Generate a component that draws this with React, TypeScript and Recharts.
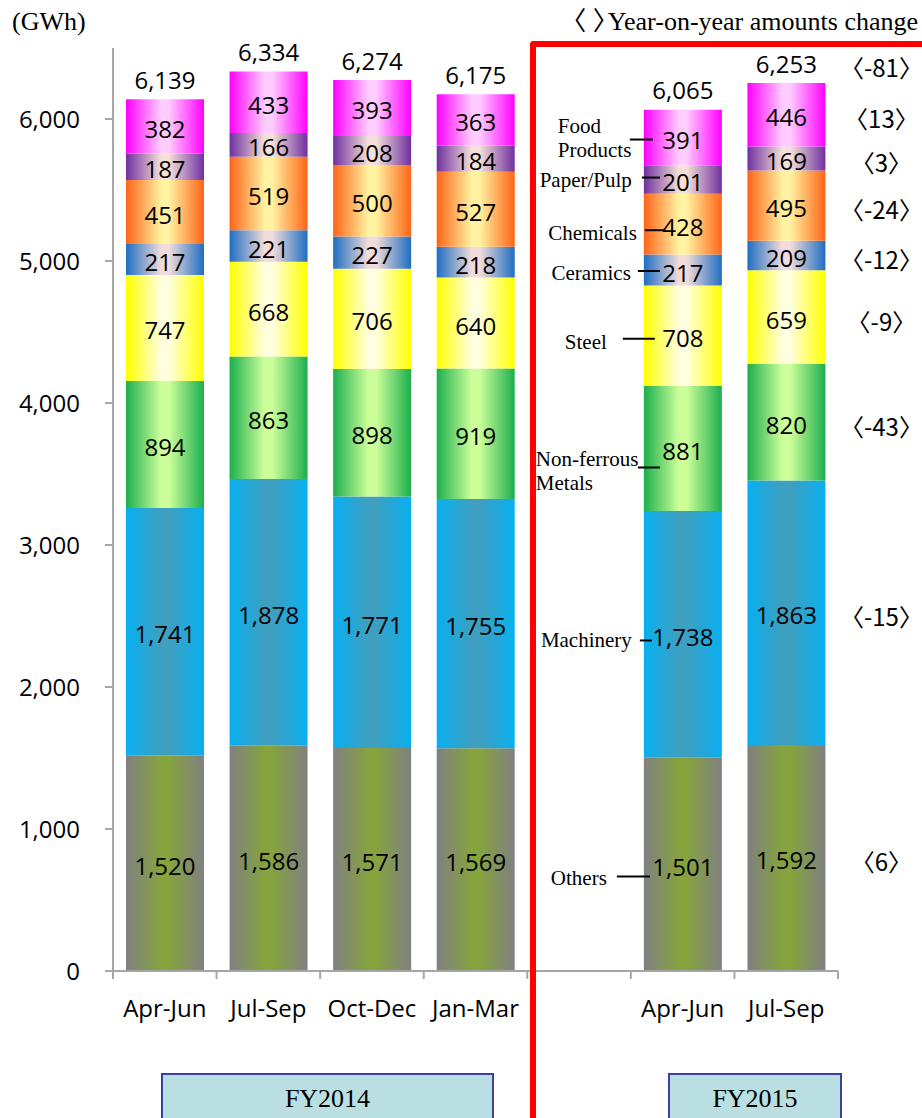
import React from 'react';
import { Bar, BarChart, LabelList, XAxis, YAxis } from 'recharts';

// quarters; the empty slot is the spacer between FY2014 and FY2015
const periods = ['Apr-Jun', 'Jul-Sep', 'Oct-Dec', 'Jan-Mar', '', 'Apr-Jun', 'Jul-Sep'];

const others = [1520, 1586, 1571, 1569, null, 1501, 1592];
const machinery = [1741, 1878, 1771, 1755, null, 1738, 1863];
const nonFerrous = [894, 863, 898, 919, null, 881, 820];
const steel = [747, 668, 706, 640, null, 708, 659];
const ceramics = [217, 221, 227, 218, null, 217, 209];
const chemicals = [451, 519, 500, 527, null, 428, 495];
const paperPulp = [187, 166, 208, 184, null, 201, 169];
const foodProducts = [382, 433, 393, 363, null, 391, 446];
const totals = [6139, 6334, 6274, 6175, null, 6065, 6253];

const seriesNames = ['Others', 'Machinery', 'Non-ferrous Metals', 'Steel', 'Ceramics', 'Chemicals', 'Paper/Pulp', 'Food Products'];
// year-on-year change of the last quarter, same order as the series
const yoyChange = [6, -15, -43, -9, -12, -24, 3, 13];
const yoyTotal = -81;

const yTicks = [0, 1000, 2000, 3000, 4000, 5000, 6000];

const seriesKeys = ['others', 'machinery', 'nonFerrous', 'steel', 'ceramics', 'chemicals', 'paperPulp', 'foodProducts'];
const seriesValues = [others, machinery, nonFerrous, steel, ceramics, chemicals, paperPulp, foodProducts];

// edge colour, centre colour of each bar gradient
const fills = [
  ['#808080', '#86A33E'],
  ['#08B0F0', '#3E9FC0'],
  ['#1DAF4E', '#CCFF99'],
  ['#FFFF00', '#FFFFE0'],
  ['#1F6EC2', '#F2DCDB'],
  ['#FF6418', '#FFF2A0'],
  ['#7030A0', '#F4E0D8'],
  ['#FF00FF', '#FFCCFF'],
];

// category labels beside the FY2015 Apr-Jun bar (offsets from bar left / segment centre)
const sideLabels = [
  { lines: ['Others'], anchor: 'end', tx: -37, dy: [14], lx: [-27, 6], ly: 12 },
  { lines: ['Machinery'], anchor: 'end', tx: -12, dy: [6], lx: [-4, 8], ly: 6 },
  { lines: ['Non-ferrous', 'Metals'], anchor: 'start', tx: -108, dy: [10, 34], lx: [-6, 16], ly: 19 },
  { lines: ['Steel'], anchor: 'end', tx: -37, dy: [6], lx: [-21, 11], ly: 3 },
  { lines: ['Ceramics'], anchor: 'end', tx: -13, dy: [3], lx: [-6, 16], ly: 1 },
  { lines: ['Chemicals'], anchor: 'end', tx: -7, dy: [9], lx: [1, 21], ly: 6 },
  { lines: ['Paper/Pulp'], anchor: 'end', tx: -12, dy: [0], lx: [-2, 16], ly: -2 },
  { lines: ['Food', 'Products'], anchor: 'start', tx: -86, dy: [-12, 12], lx: [-14, 9], ly: 2 },
];

const W = 922;
const H = 1118;
const PLOT_LEFT = 113;
const PLOT_RIGHT = 838;
const BAND = (PLOT_RIGHT - PLOT_LEFT) / periods.length;
const SANS = '"Open Sans", "Noto Sans", sans-serif';
const SERIF = '"Liberation Serif", "Times New Roman", "Noto Sans CJK JP", serif';
const CJK = '"Noto Sans CJK JP", "Open Sans", sans-serif';
const AXIS = '#A6A6A6';
const SIDE_LABEL_BAR = 5;
const YOY_BAR = 6;
const YOY_DX = 56;

const data = periods.map((period, i) => {
  const row: Record<string, string | number | null> = { period };
  seriesKeys.forEach((k, s) => {
    row[k] = seriesValues[s][i];
  });
  return row;
});

const fmt = (v: number) => v.toLocaleString('en-US');
const fmtYoy = (v: number) => `〈${v}〉`;

// LabelList skips the empty spacer row, so find the category from the bar position
const categoryOf = (x: number, width: number) => Math.floor((x + width / 2 - PLOT_LEFT) / BAND);

function makeSegmentLabel(s: number) {
  return (props: any) => {
    const x = Number(props.x);
    const y = Number(props.y);
    const width = Number(props.width);
    const height = Number(props.height);
    const index = categoryOf(x, width);
    const v = seriesValues[s][index];
    if (v == null) return null;
    const cx = x + width / 2;
    const cy = y + height / 2;
    const side = sideLabels[s];
    return (
      <g>
        <text x={cx} y={cy + 2} textAnchor="middle" dominantBaseline="central" fontFamily={SANS} fontSize={24} fill="#000">
          {fmt(v)}
        </text>
        {index === SIDE_LABEL_BAR && (
          <g>
            <line x1={x + side.lx[0]} x2={x + side.lx[1]} y1={cy + side.ly} y2={cy + side.ly} stroke="#000" strokeWidth={2} />
            {side.lines.map((t, j) => (
              <text key={t} x={x + side.tx} y={cy + side.dy[j]} textAnchor={side.anchor as any} dominantBaseline="central" fontFamily={SERIF} fontSize={21} fill="#000">
                {t}
              </text>
            ))}
          </g>
        )}
        {index === YOY_BAR && (
          <text x={x + width + YOY_DX} y={cy + 3} textAnchor="middle" dominantBaseline="central" fontFamily={CJK} fontSize={24} fill="#000">
            {fmtYoy(yoyChange[s])}
          </text>
        )}
      </g>
    );
  };
}

function TotalLabel(props: any) {
  const x = Number(props.x);
  const y = Number(props.y);
  const width = Number(props.width);
  const index = categoryOf(x, width);
  const t = totals[index];
  if (t == null) return null;
  return (
    <g>
      <text x={x + width / 2} y={y - 20} textAnchor="middle" dominantBaseline="central" fontFamily={SANS} fontSize={24} fill="#000">
        {fmt(t)}
      </text>
      {index === YOY_BAR && (
        <text x={x + width + YOY_DX} y={y - 17} textAnchor="middle" dominantBaseline="central" fontFamily={CJK} fontSize={24} fill="#000">
          {fmtYoy(yoyTotal)}
        </text>
      )}
    </g>
  );
}

function PeriodTick(props: any) {
  const { x, y, payload, index } = props;
  const axisY = Number(y) - 8;
  return (
    <g>
      <line x1={x - BAND / 2} x2={x - BAND / 2} y1={axisY} y2={axisY + 8} stroke={AXIS} strokeWidth={2} />
      {index === periods.length - 1 && (
        <line x1={x + BAND / 2} x2={x + BAND / 2} y1={axisY} y2={axisY + 8} stroke={AXIS} strokeWidth={2} />
      )}
      <text x={x} y={axisY + 36} textAnchor="middle" dominantBaseline="central" fontFamily={SANS} fontSize={24} fill="#000">
        {payload.value}
      </text>
    </g>
  );
}

const fyBox: React.CSSProperties = {
  position: 'absolute',
  top: 1073,
  height: 60,
  boxSizing: 'border-box',
  background: '#B9DFE3',
  border: '2px solid #3F3F9F',
  textAlign: 'center',
  fontFamily: SERIF,
  fontSize: 26,
  lineHeight: '48px',
  color: '#000',
};

export default function App() {
  return (
    <div style={{ position: 'absolute', left: 0, top: 0, width: W, height: H, overflow: 'hidden', background: '#fff' }}>
      <BarChart width={W} height={H} data={data} margin={{ top: 48, right: W - PLOT_RIGHT, left: 0, bottom: 87 }}>
        <defs>
          {fills.map(([edge, centre], s) => (
            <linearGradient key={s} id={`grad-${seriesKeys[s]}`} x1="0" y1="0" x2="1" y2="0">
              <stop offset="0" stopColor={edge} />
              <stop offset="0.45" stopColor={centre} />
              <stop offset="0.55" stopColor={centre} />
              <stop offset="1" stopColor={edge} />
            </linearGradient>
          ))}
        </defs>
        <XAxis
          dataKey="period"
          interval={0}
          height={60}
          tickSize={8}
          tickMargin={0}
          tickLine={false}
          axisLine={{ stroke: AXIS, strokeWidth: 2 }}
          tick={<PeriodTick />}
        />
        <YAxis
          width={PLOT_LEFT}
          domain={[0, 6500]}
          ticks={yTicks}
          tickFormatter={fmt}
          tickSize={8}
          tickMargin={25}
          axisLine={{ stroke: AXIS, strokeWidth: 2 }}
          tickLine={{ stroke: AXIS, strokeWidth: 2 }}
          tick={{ fontFamily: SANS, fontSize: 24, fill: '#000' }}
        />
        {seriesKeys.map((k, s) => (
          <Bar key={k} dataKey={k} name={seriesNames[s]} stackId="a" barSize={78} fill={`url(#grad-${k})`} isAnimationActive={false}>
            <LabelList dataKey={k} content={makeSegmentLabel(s)} />
            {s === seriesKeys.length - 1 && <LabelList dataKey={k} content={TotalLabel} />}
          </Bar>
        ))}
      </BarChart>

      <div style={{ position: 'absolute', left: 12, top: 6, fontFamily: SERIF, fontSize: 26, lineHeight: '32px' }}>(GWh)</div>
      <div style={{ position: 'absolute', right: 4, top: 6, fontFamily: SERIF, fontSize: 26, lineHeight: '32px', whiteSpace: 'nowrap' }}>
        〈 <span style={{ letterSpacing: -11 }}>〉</span>Year-on-year amounts change
      </div>
      <div
        style={{
          position: 'absolute',
          left: 530,
          top: 41,
          width: 420,
          height: 1120,
          boxSizing: 'border-box',
          borderTop: '6px solid #FF0000',
          borderLeft: '6px solid #FF0000',
          borderTopLeftRadius: 4,
        }}
      />
      <div style={{ ...fyBox, left: 161, width: 333 }}>FY2014</div>
      <div style={{ ...fyBox, left: 668, width: 174 }}>FY2015</div>
    </div>
  );
}
